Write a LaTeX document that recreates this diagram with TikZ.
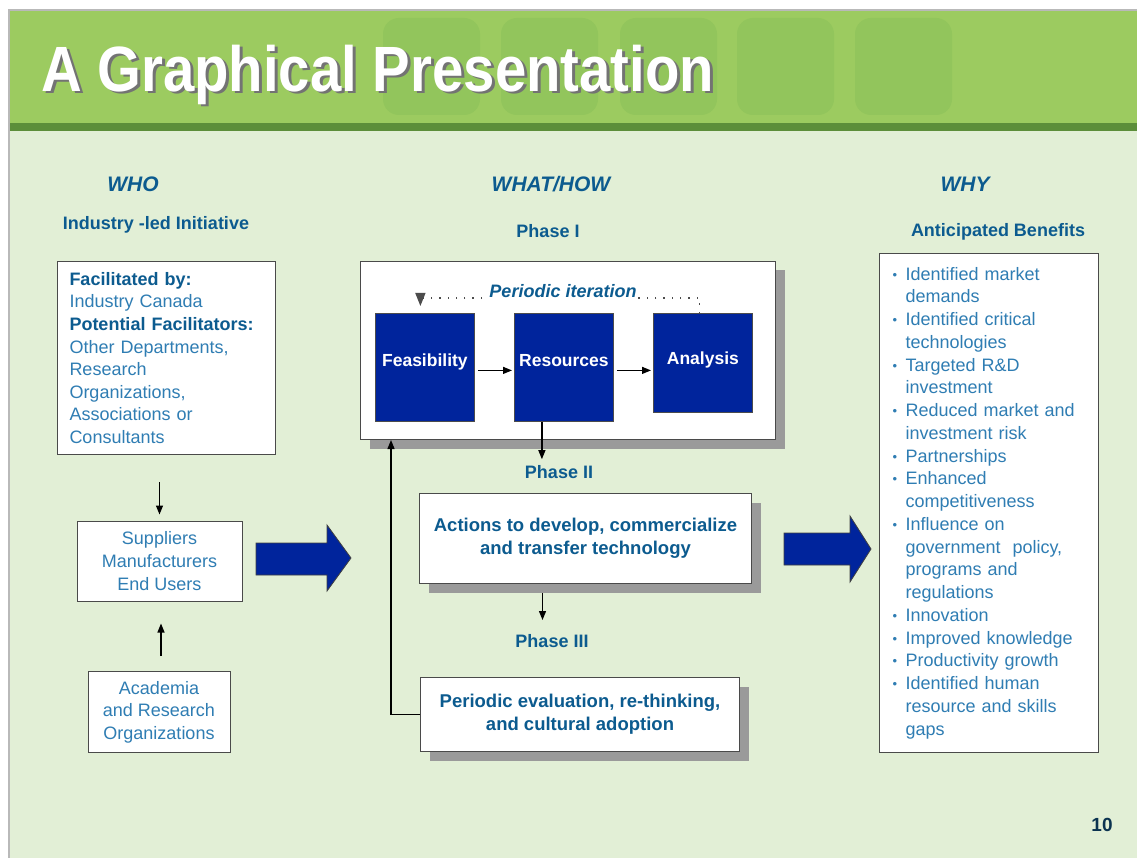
\documentclass[tikz,border=0pt]{standalone}
\usepackage{fontspec}
\setmainfont{Liberation Sans}
\usetikzlibrary{arrows.meta,calc,shadows}

\definecolor{hdrgreen}{HTML}{9CCB60}
\definecolor{hdrdeco}{HTML}{92C55C}
\definecolor{banddark}{HTML}{5C8E3A}
\definecolor{bodygreen}{HTML}{E2EFD6}
\definecolor{navy}{HTML}{0C5B8F}
\definecolor{txtblue}{HTML}{2F7DB3}
\definecolor{boxblue}{HTML}{00249C}
\definecolor{shadowgray}{HTML}{9A9A9A}
\definecolor{edgegray}{HTML}{4A4A4A}
\definecolor{numnavy}{HTML}{0B3350}

\newcommand{\benitem}{\makebox[13pt][l]{\raisebox{1pt}{\fontsize{13}{13}\selectfont •}}}
\newcommand{\bencont}{\hspace*{13pt}}

\begin{document}
\begin{tikzpicture}[x=1pt,y=-1pt,
  colhead/.style={font=\fontsize{21}{21}\selectfont\bfseries\itshape, text=navy, inner sep=0pt},
  subhead/.style={font=\fontsize{18}{18}\selectfont\bfseries, text=navy, inner sep=0pt},
  wbox/.style={draw=edgegray, fill=white, line width=1pt, inner sep=0pt},
  plain/.style={font=\fontsize{18}{22.6}\selectfont, text=txtblue},
  phasebox/.style={wbox, drop shadow={shadow xshift=9pt, shadow yshift=-9pt, fill=shadowgray, opacity=1},
    font=\fontsize{18.5}{23}\selectfont\bfseries, text=navy, align=center},
  bluebox/.style={draw=black!70, fill=boxblue, line width=0.8pt, inner sep=0pt,
    font=\fontsize{17.5}{17.5}\selectfont\bfseries, text=white, anchor=north west},
  arr/.style={line width=1.2pt, -{Triangle[length=9pt,width=7pt]}},
  bigarrow/.style={fill=boxblue, draw=black!75, line width=0.8pt}
]
\useasboundingbox (0,0) rectangle (1137,858);

% slide background, frame and header band
\fill[white] (0,0) rectangle (1137,858);
\fill[gray!55] (8,9) rectangle (1137,858);
\fill[bodygreen] (10,131) rectangle (1137,858);
\fill[hdrgreen] (10,11) rectangle (1137,123);
\foreach \x in {383,501,620,737,855}
  \fill[hdrdeco, rounded corners=16pt] (\x,18) rectangle ++(97,97);
\fill[banddark] (10,123) rectangle (1137,131);

% title with its shadow
\node[anchor=base west, inner sep=0pt, text=black!55, font=\fontsize{64}{64}\selectfont\bfseries]
  (titleshadow) at (44,94) {\scalebox{0.88}[1]{A Graphical Presentation}};
\node[anchor=base west, inner sep=0pt, text=white, font=\fontsize{64}{64}\selectfont\bfseries]
  (title) at (41,92) {\scalebox{0.88}[1]{A Graphical Presentation}};

% column headings
\node[colhead] (who) at (133,184) {WHO};
\node[colhead] (what) at (551,184) {WHAT/HOW};
\node[colhead] (why) at (965,184) {WHY};
\node[subhead] (ind) at (156,225) {Industry -led Initiative};
\node[subhead] (ph1) at (548,231) {Phase I};
\node[subhead] (ant) at (998,232) {Anticipated Benefits};
\node[subhead] (ph2) at (559,472) {Phase II};
\node[subhead] (ph3) at (552,641) {Phase III};

% WHO column
\node[wbox, plain, anchor=north west, minimum width=218, minimum height=193,
  inner xsep=12pt, text width=194, align=left] (fac) at (57,261)
  {{\color{navy}\bfseries Facilitated by:}\\
   Industry Canada\\
   {\color{navy}\bfseries Potential Facilitators:}\\
   Other Departments,\\
   Research\\
   Organizations,\\
   Associations or\\
   Consultants};
\node[wbox, plain, minimum width=165, minimum height=80, align=center] (sup) at (159.5,561)
  {Suppliers\\Manufacturers\\End Users};
\node[wbox, plain, minimum width=142, minimum height=81, align=center] (acad) at (159,712)
  {Academia\\and Research\\Organizations};
\draw[arr, shorten <=27pt, shorten >=6pt] (fac.south -| sup.north) -- (sup.north);
\draw[arr, shorten <=15pt, shorten >=22pt] ([xshift=2pt]acad.north) -- ([xshift=2pt]acad.north |- sup.south);

% big arrows between the columns
\path[bigarrow] (256,543) -- (327,543) -- (327,525) -- (351,558) -- (327,591) -- (327,575) -- (256,575) -- cycle;
\path[bigarrow] (784,533) -- (850,533) -- (850,516) -- (871,549) -- (850,582) -- (850,565) -- (784,565) -- cycle;

% WHAT/HOW column: phase I
\node[phasebox, anchor=north west, minimum width=415, minimum height=178] (phI) at (360,261) {};
\node[bluebox, minimum width=99, minimum height=108] (feas) at (375,313) {\raisebox{14pt}{Feasibility}};
\node[bluebox, minimum width=99, minimum height=108] (res) at (514,313) {\raisebox{14pt}{Resources}};
\node[bluebox, minimum width=99, minimum height=99] (anal) at (653,313) {\raisebox{9pt}{Analysis}};
\draw[arr, shorten <=3pt, shorten >=2pt] ([yshift=-3pt]feas.east) -- ([yshift=-3pt]res.west);
\draw[arr, shorten <=3pt, shorten >=2pt] ([yshift=-3pt]res.east) -- ([yshift=-3pt]res.east -| anal.west);
\draw[line width=1.3pt, black!70, dash pattern=on 1.3pt off 7pt, -{Triangle[length=13pt,width=10pt]}, shorten >=7pt]
  ([xshift=-3.5pt]anal.north) -- ++(0,-15) -| ([xshift=-4.5pt]feas.north);
\node[fill=white, inner sep=1pt, font=\fontsize{18}{18}\selectfont\bfseries\itshape, text=navy]
  (iter) at (563,291) {Periodic iteration};

% phases II and III
\draw[arr, shorten >=6pt] ([xshift=-22pt]res.south) -- ([xshift=-22pt]res.south |- ph2.north);
\node[phasebox, anchor=north west, minimum width=332, minimum height=90] (phII) at (419,493)
  {Actions to develop, commercialize\\and transfer technology};
\draw[arr, shorten <=9pt] ([xshift=-43pt]phII.south) -- ++(0,36);
\node[phasebox, anchor=north west, minimum width=319, minimum height=74] (phIII) at (420,677)
  {Periodic evaluation, re-thinking,\\and cultural adoption};
\draw[arr] (phIII.west) -| ([xshift=31pt]phI.south west);

% WHY column
\node[wbox, plain, anchor=north west, minimum width=219, minimum height=499,
  inner xsep=13pt, text width=193, align=left, font=\fontsize{18}{22.75}\selectfont] (ben) at (879,253)
  {\benitem Identified market\\
   \bencont demands\\
   \benitem Identified critical\\
   \bencont technologies\\
   \benitem Targeted R\&D\\
   \bencont investment\\
   \benitem Reduced market and\\
   \bencont investment risk\\
   \benitem Partnerships\\
   \benitem Enhanced\\
   \bencont competitiveness\\
   \benitem Influence on\\
   \bencont government\ \ policy,\\
   \bencont programs and\\
   \bencont regulations\\
   \benitem Innovation\\
   \benitem Improved knowledge\\
   \benitem Productivity growth\\
   \benitem Identified human\\
   \bencont resource and skills\\
   \bencont gaps};

% page number
\node[font=\fontsize{19}{19}\selectfont\bfseries, text=numnavy, inner sep=0pt] (pg) at (1102,825) {10};
\end{tikzpicture}
\end{document}
